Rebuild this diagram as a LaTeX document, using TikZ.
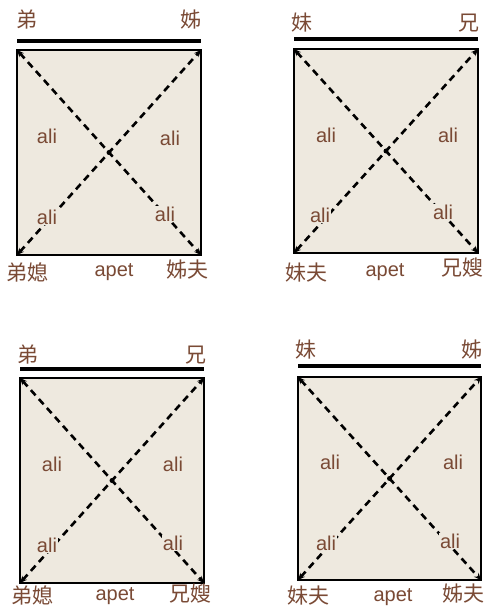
\documentclass[tikz,border=0pt]{standalone}
\usepackage{fontspec}
\setmainfont{Liberation Sans}
\newfontfamily\cjk{Noto Sans CJK TC}
\usepackage{xcolor}
\usepackage{tikz}
\usetikzlibrary{arrows.meta}
\definecolor{kinbrown}{HTML}{7A4A35}
\definecolor{boxbeige}{HTML}{EEE9DF}

\tikzset{
    kin/.style={text=kinbrown, font=\cjk\fontsize{21}{21}\selectfont, inner sep=0pt},
    ali/.style={text=kinbrown, font=\fontsize{20}{20}\selectfont, fill=boxbeige, inner sep=1pt},
    sibline/.style={line width=4.5pt},
    kinbox/.style={draw=black, line width=2pt, fill=boxbeige},
    alilink/.style={line width=2.6pt, dash pattern=on 7pt off 5pt, {Stealth[length=7pt,width=6pt]}-{Stealth[length=7pt,width=6pt]}}
}

\begin{document}
\begin{tikzpicture}[x=1pt, y=-1pt]
    \useasboundingbox[fill=white] (0,0) rectangle (486,609);

    % ========== Panel 1: younger brother / older sister ==========
    \begin{scope}[shift={(17,50)}]
        \coordinate (nw1) at (0,0);   \coordinate (ne1) at (184,0);
        \coordinate (sw1) at (0,205); \coordinate (se1) at (184,205);
        \coordinate (ul1) at (0,-9);  \coordinate (ur1) at (184,-9);
        \coordinate (c1) at (92,102.5);
        \draw[sibline] (ul1) -- (ur1);
        \draw[kinbox] (nw1) rectangle (se1);
        \draw[alilink] (nw1) -- (se1);
        \draw[alilink] (sw1) -- (ne1);
        \fill (c1) circle (2.5);
        \node[kin] (tl1) at (10,-30) {弟};
        \node[kin] (tr1) at (174,-30) {姊};
        \node[ali] (a1) at (30,86) {ali};
        \node[ali] (b1) at (153,88) {ali};
        \node[ali] (c1l) at (30,167) {ali};
        \node[ali] (d1) at (148,164) {ali};
        \node[kin] (bl1) at (10,222) {弟媳};
        \node[ali, fill=none] (bm1) at (97,222) {apet};
        \node[kin] (br1) at (170,220) {姊夫};
    \end{scope}

    % ========== Panel 2: younger sister / older brother ==========
    \begin{scope}[shift={(294,49)}]
        \coordinate (nw2) at (0,0);   \coordinate (ne2) at (184,0);
        \coordinate (sw2) at (0,204); \coordinate (se2) at (184,204);
        \coordinate (ul2) at (0,-10); \coordinate (ur2) at (184,-10);
        \coordinate (c2) at (92,102);
        \draw[sibline] (ul2) -- (ur2);
        \draw[kinbox] (nw2) rectangle (se2);
        \draw[alilink] (nw2) -- (se2);
        \draw[alilink] (sw2) -- (ne2);
        \fill (c2) circle (2.5);
        \node[kin] (tl2) at (8,-26) {妹};
        \node[kin] (tr2) at (175,-26) {兄};
        \node[ali] (a2) at (32,86) {ali};
        \node[ali] (b2) at (154,86) {ali};
        \node[ali] (c2l) at (26,166) {ali};
        \node[ali] (d2) at (149,163) {ali};
        \node[kin] (bl2) at (12,224) {妹夫};
        \node[ali, fill=none] (bm2) at (91,223) {apet};
        \node[kin] (br2) at (168,219) {兄嫂};
    \end{scope}

    % ========== Panel 3: younger brother / older brother ==========
    \begin{scope}[shift={(20,378)}]
        \coordinate (nw3) at (0,0);   \coordinate (ne3) at (184,0);
        \coordinate (sw3) at (0,205); \coordinate (se3) at (184,205);
        \coordinate (ul3) at (0,-9);  \coordinate (ur3) at (184,-9);
        \coordinate (c3) at (92,102.5);
        \draw[sibline] (ul3) -- (ur3);
        \draw[kinbox] (nw3) rectangle (se3);
        \draw[alilink] (nw3) -- (se3);
        \draw[alilink] (sw3) -- (ne3);
        \fill (c3) circle (2.5);
        \node[kin] (tl3) at (8,-23) {弟};
        \node[kin] (tr3) at (176,-23) {兄};
        \node[ali] (a3) at (32,86) {ali};
        \node[ali] (b3) at (153,86) {ali};
        \node[ali] (c3l) at (27,167) {ali};
        \node[ali] (d3) at (153,165) {ali};
        \node[kin] (bl3) at (12,217) {弟媳};
        \node[ali, fill=none] (bm3) at (95,218) {apet};
        \node[kin] (br3) at (170,216) {兄嫂};
    \end{scope}

    % ========== Panel 4: younger sister / older sister ==========
    \begin{scope}[shift={(298,377)}]
        \coordinate (nw4) at (0,0);   \coordinate (ne4) at (183,0);
        \coordinate (sw4) at (0,203); \coordinate (se4) at (183,203);
        \coordinate (ul4) at (0,-11); \coordinate (ur4) at (183,-11);
        \coordinate (c4) at (91.5,101.5);
        \draw[sibline] (ul4) -- (ur4);
        \draw[kinbox] (nw4) rectangle (se4);
        \draw[alilink] (nw4) -- (se4);
        \draw[alilink] (sw4) -- (ne4);
        \fill (c4) circle (2.5);
        \node[kin] (tl4) at (8,-27) {妹};
        \node[kin] (tr4) at (174,-27) {姊};
        \node[ali] (a4) at (32,85) {ali};
        \node[ali] (b4) at (155,85) {ali};
        \node[ali] (c4l) at (28,166) {ali};
        \node[ali] (d4) at (152,164) {ali};
        \node[kin] (bl4) at (10,219) {妹夫};
        \node[ali, fill=none] (bm4) at (95,220) {apet};
        \node[kin] (br4) at (165,217) {姊夫};
    \end{scope}
\end{tikzpicture}
\end{document}
